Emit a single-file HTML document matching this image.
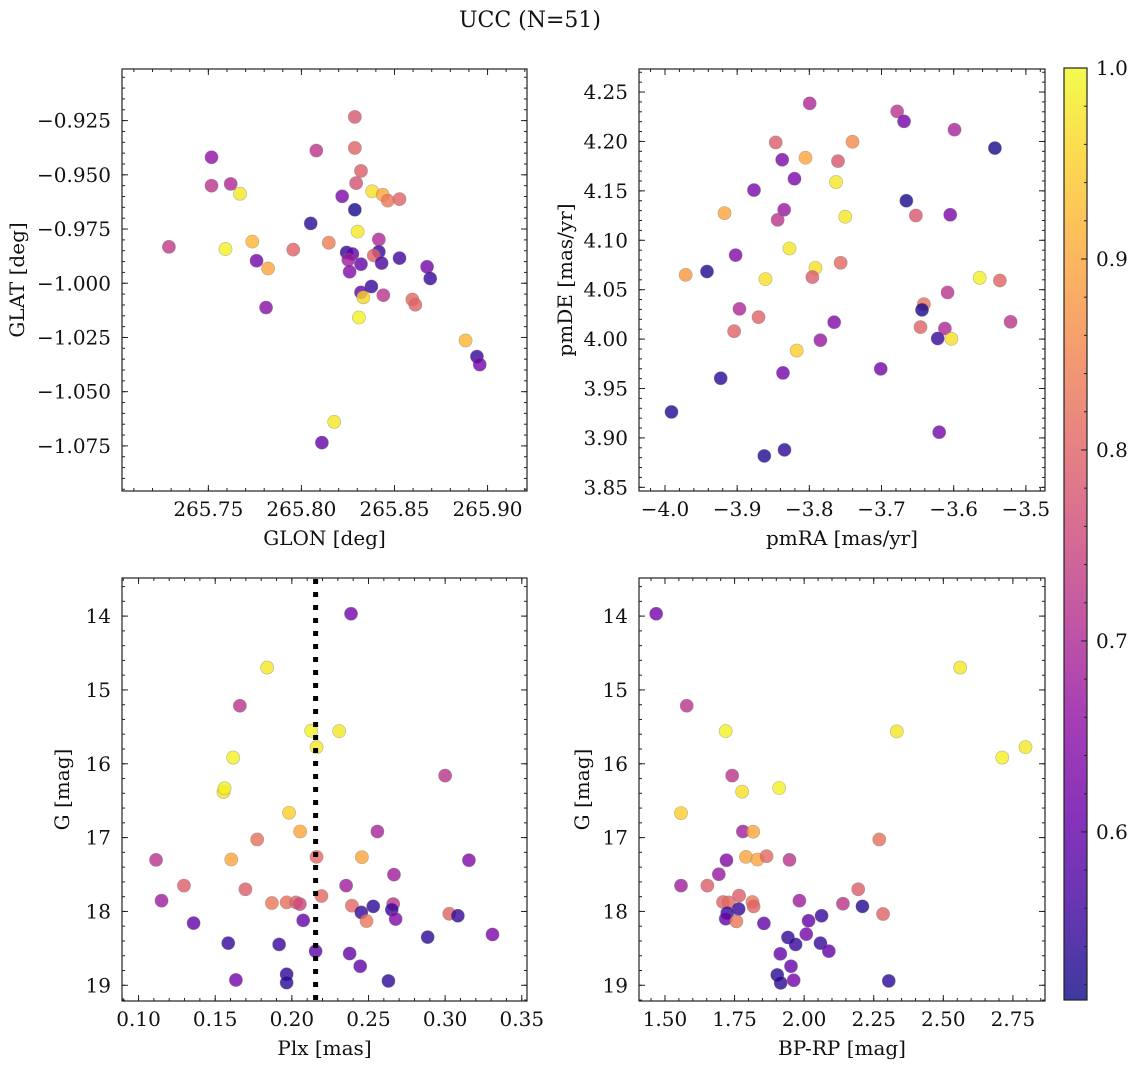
<!DOCTYPE html>
<html><head><meta charset="utf-8"><style>
html,body{margin:0;padding:0;background:#fff;}
svg text{font-family:"DejaVu Serif","Liberation Serif",serif;fill:#111;}
</style></head><body>
<svg id="fig" width="1136" height="1068" viewBox="0 0 1136 1068" xmlns="http://www.w3.org/2000/svg">
<defs>
<linearGradient id="plasma" x1="0" y1="1" x2="0" y2="0"></linearGradient>
</defs>
<text x="530" y="27" font-size="22" text-anchor="middle">UCC (N=51)</text>
</svg>
<script>
// ---- Data ----
const tlGlon=[265.8287,265.808,265.8287,265.7517,265.832,265.7517,265.762,265.8294,265.767,265.838,265.8437,265.8464,265.8527,265.8219,265.8287,265.805,265.8302,265.7288,265.7592,265.7736,265.7956,265.8147,265.8416,265.8243,265.8274,265.8416,265.8389,265.8527,265.7759,265.7821,265.8252,265.832,265.8431,265.8259,265.8675,265.8692,265.8376,265.832,265.8333,265.844,265.8596,265.8612,265.781,265.8309,265.8882,265.8943,265.8958,265.8176,265.811];
const tlGlat=[-0.9233,-0.9388,-0.9376,-0.9419,-0.9482,-0.955,-0.9542,-0.9538,-0.9587,-0.9576,-0.9592,-0.9619,-0.9612,-0.9599,-0.9661,-0.9724,-0.9762,-0.9832,-0.9842,-0.9808,-0.9845,-0.9813,-0.9798,-0.9858,-0.9865,-0.9855,-0.9872,-0.9884,-0.9896,-0.9932,-0.9892,-0.9912,-0.9907,-0.9947,-0.9924,-0.9978,-1.0015,-1.0042,-1.0065,-1.0055,-1.0075,-1.0099,-1.0112,-1.0158,-1.0264,-1.0338,-1.0375,-1.0639,-1.0735];
const tlProb=[0.78,0.72,0.8,0.66,0.79,0.72,0.7,0.77,0.98,0.97,0.9,0.83,0.8,0.63,0.52,0.54,0.98,0.73,0.99,0.92,0.8,0.84,0.7,0.54,0.6,0.55,0.8,0.56,0.62,0.9,0.68,0.6,0.57,0.64,0.62,0.55,0.55,0.6,0.96,0.72,0.81,0.8,0.65,0.99,0.92,0.55,0.62,0.98,0.6];

const trPmra=[-3.7995,-3.6783,-3.6688,-3.5989,-3.5429,-3.8466,-3.7402,-3.8376,-3.8053,-3.7603,-3.8206,-3.763,-3.8767,-3.6656,-3.9175,-3.8349,-3.8439,-3.7503,-3.6524,-3.6048,-3.8275,-3.9021,-3.7566,-3.7915,-3.7958,-3.9714,-3.9418,-3.8608,-3.564,-3.536,-3.6085,-3.6413,-3.6439,-3.8968,-3.8704,-3.7656,-3.5212,-3.9042,-3.646,-3.6122,-3.7847,-3.6222,-3.6032,-3.8175,-3.7011,-3.8365,-3.9228,-3.991,-3.6201,-3.8344,-3.8624];
const trPmde=[4.2385,4.2304,4.2203,4.2119,4.1933,4.199,4.1997,4.1815,4.1835,4.1801,4.1623,4.1589,4.1508,4.14,4.1275,4.1309,4.1207,4.1238,4.1251,4.1258,4.0917,4.085,4.0772,4.0721,4.0627,4.065,4.0684,4.0607,4.062,4.0593,4.0472,4.0354,4.0296,4.0306,4.0222,4.0171,4.0175,4.008,4.0121,4.0107,3.9989,4.0006,4.0003,3.9884,3.9699,3.9658,3.9604,3.9263,3.9058,3.8879,3.8818];
const trProb=[0.7,0.72,0.62,0.69,0.52,0.79,0.86,0.63,0.9,0.78,0.63,0.98,0.63,0.52,0.9,0.67,0.72,0.98,0.78,0.63,0.98,0.64,0.81,0.97,0.79,0.88,0.53,0.97,0.99,0.8,0.72,0.82,0.52,0.7,0.8,0.64,0.72,0.8,0.8,0.7,0.67,0.55,0.97,0.95,0.62,0.62,0.54,0.53,0.62,0.54,0.53];

const blPlx=[0.2386,0.1839,0.1661,0.2126,0.2309,0.2161,0.1617,0.1554,0.1561,0.30,0.1982,0.2054,0.2558,0.1774,0.1114,0.1605,0.2161,0.2457,0.3155,0.2666,0.1296,0.2354,0.1697,0.2193,0.115,0.187,0.1966,0.2027,0.2052,0.2392,0.2531,0.2661,0.2652,0.2453,0.3027,0.3083,0.2487,0.2677,0.2074,0.1359,0.1585,0.1917,0.2886,0.3309,0.2155,0.2377,0.2446,0.1966,0.1966,0.1635,0.263];
const blG=[13.968,14.697,15.214,15.553,15.558,15.775,15.916,16.382,16.332,16.16,16.663,16.917,16.917,17.025,17.302,17.297,17.261,17.265,17.306,17.501,17.65,17.65,17.7,17.791,17.854,17.886,17.877,17.877,17.9,17.922,17.931,17.9,17.976,18.013,18.031,18.058,18.13,18.103,18.121,18.158,18.429,18.447,18.348,18.312,18.538,18.57,18.742,18.851,18.964,18.928,18.941];
const blProb=[0.62,0.98,0.72,0.99,0.98,0.98,0.99,0.97,0.99,0.72,0.95,0.9,0.69,0.82,0.72,0.9,0.81,0.9,0.64,0.68,0.79,0.68,0.79,0.81,0.68,0.83,0.82,0.8,0.75,0.81,0.54,0.72,0.55,0.55,0.8,0.55,0.83,0.64,0.6,0.6,0.55,0.55,0.54,0.63,0.59,0.6,0.6,0.54,0.54,0.62,0.54];
const plxMedian=[0.2155];

const brBprp=[1.4684,2.5606,1.5782,1.7182,2.3329,2.7953,2.7116,1.7415,1.7772,1.9103,1.5576,1.7799,1.817,2.2698,1.7209,1.7909,1.832,1.865,1.9473,1.6935,1.5576,1.6523,2.1943,1.7662,1.7086,1.7291,1.8142,1.8183,1.983,2.1394,2.2094,1.7648,1.7237,2.2835,2.0626,1.7182,1.7566,2.0159,1.8554,2.0077,1.9418,1.9693,2.0585,2.0886,1.9144,1.9528,1.9034,1.9157,1.9624,2.3041];
const brG=[13.968,14.697,15.214,15.558,15.562,15.775,15.916,16.16,16.378,16.328,16.668,16.917,16.921,17.025,17.306,17.261,17.297,17.252,17.302,17.496,17.65,17.65,17.70,17.786,17.872,17.877,17.872,17.931,17.854,17.895,17.931,17.967,18.022,18.035,18.058,18.099,18.135,18.126,18.162,18.307,18.352,18.447,18.429,18.538,18.574,18.742,18.86,18.968,18.932,18.941];
const brProb=[0.62,0.98,0.72,0.99,0.98,0.98,0.99,0.72,0.97,0.99,0.95,0.68,0.9,0.82,0.64,0.9,0.9,0.81,0.72,0.67,0.68,0.79,0.79,0.79,0.8,0.81,0.83,0.8,0.68,0.72,0.53,0.55,0.55,0.8,0.55,0.6,0.83,0.6,0.6,0.62,0.55,0.55,0.55,0.6,0.6,0.6,0.54,0.54,0.62,0.54];

const tlXTicks=[265.75,265.80,265.85,265.90];
const tlYTicks=[-0.925,-0.950,-0.975,-1.000,-1.025,-1.050,-1.075];
const trXTicks=[-4.0,-3.9,-3.8,-3.7,-3.6,-3.5];
const trYTicks=[3.85,3.90,3.95,4.00,4.05,4.10,4.15,4.20,4.25];
const blXTicks=[0.10,0.15,0.20,0.25,0.30,0.35];
const gTicks=[14,15,16,17,18,19];
const brXTicks=[1.50,1.75,2.00,2.25,2.50,2.75];
const cbTicks=[0.6,0.7,0.8,0.9,1.0];
const cbRange=[0.512,1.0];

// ---- Helpers ----
const NS='http://www.w3.org/2000/svg';
const svg=document.getElementById('fig');
function mk(tag,attrs,parent){const e=document.createElementNS(NS,tag);for(const k in attrs)e.setAttribute(k,attrs[k]);(parent||svg).appendChild(e);return e;}
const stops=[[13,8,135],[65,4,157],[106,0,168],[143,13,164],[177,42,144],[204,71,120],[225,100,98],[242,132,75],[252,166,54],[252,206,37],[240,249,33]];
function plasma(t){t=Math.max(0,Math.min(1,t));const p=t*10,i=Math.min(9,Math.floor(p)),f=p-i;const a=stops[i],b=stops[i+1];return 'rgb('+a.map((v,k)=>Math.round(v+(b[k]-v)*f)).join(',')+')';}
function cmap(v){return plasma((v-cbRange[0])/(cbRange[1]-cbRange[0]));}
function fmt(v,d){const s=Math.abs(v).toFixed(d);return (v<0?'\u2212':'')+s;}
const TFS=20, LFS=20;

function panel(o){
  const g=mk('g',{});
  
  
  const sx=v=>o.x0+(v-o.xmin)/(o.xmax-o.xmin)*(o.x1-o.x0);
  const sy=o.invert?(v=>o.y0+(v-o.ymin)/(o.ymax-o.ymin)*(o.y1-o.y0)):(v=>o.y1-(v-o.ymin)/(o.ymax-o.ymin)*(o.y1-o.y0));
  const pts=mk('g',{},g);
  
  
  for(let i=0;i<o.xs.length;i++){
    const c=mk('circle',{cx:sx(o.xs[i]),cy:sy(o.ys[i]),r:6.6,fill:cmap(o.cs[i]),'fill-opacity':0.8,stroke:'#777','stroke-opacity':0.5,'stroke-width':0.6},pts);
    
    
  }
  if(o.vline){
    const l2=mk('line',{x1:sx(o.vline),x2:sx(o.vline),y1:o.y0+1,y2:o.y1,stroke:'#000','stroke-width':5,'stroke-dasharray':'5,8'},g);
    
    
  }
  const fr=mk('rect',{x:o.x0,y:o.y0,width:o.x1-o.x0,height:o.y1-o.y0,fill:'none',stroke:'#222','stroke-width':1.2},g);
  
  
  const tk=mk('g',{stroke:'#222','stroke-width':1},g);
  
  
  const ms=(o.xTicks[1]-o.xTicks[0])/o.xMinorN;
  for(let v=o.xTicks[0]-20*ms;v<=o.xmax+1e-9;v+=ms){ if(v<o.xmin-1e-9)continue; const X=sx(v);
    mk('line',{x1:X,x2:X,y1:o.y1,y2:o.y1-3},tk);mk('line',{x1:X,x2:X,y1:o.y0,y2:o.y0+3},tk);}
  const msy=Math.abs(o.yTicks[1]-o.yTicks[0])/o.yMinorN;
  const ylo=Math.min(o.ymin,o.ymax),yhi=Math.max(o.ymin,o.ymax);
  for(let v=Math.min(...o.yTicks)-20*msy;v<=yhi+1e-9;v+=msy){ if(v<ylo-1e-9)continue; const Y=sy(v);
    mk('line',{x1:o.x0,x2:o.x0+3,y1:Y,y2:Y},tk);mk('line',{x1:o.x1,x2:o.x1-3,y1:Y,y2:Y},tk);}
  o.xTicks.forEach(v=>{const X=sx(v); if(X>o.x1+1)return;
    mk('line',{x1:X,x2:X,y1:o.y1,y2:o.y1-6},tk);mk('line',{x1:X,x2:X,y1:o.y0,y2:o.y0+6},tk);
    const t=mk('text',{x:X,y:o.y1+25,'font-size':TFS,'text-anchor':'middle'},g);t.textContent=fmt(v,o.xDec);
    
    });
  o.yTicks.forEach(v=>{const Y=sy(v);
    mk('line',{x1:o.x0,x2:o.x0+6,y1:Y,y2:Y},tk);mk('line',{x1:o.x1,x2:o.x1-6,y1:Y,y2:Y},tk);
    const t=mk('text',{x:o.x0-11,y:Y+7,'font-size':TFS,'text-anchor':'end'},g);t.textContent=fmt(v,o.yDec);
    
    });
  const xl=mk('text',{x:(o.x0+o.x1)/2,y:o.y1+54,'font-size':LFS,'text-anchor':'middle'},g);xl.textContent=o.xlabel;
  
  
  const cy=(o.y0+o.y1)/2;
  const yl=mk('text',{x:o.ylx,y:cy,'font-size':LFS,'text-anchor':'middle',transform:'rotate(-90 '+o.ylx+' '+cy+')'},g);yl.textContent=o.ylabel;
  
  
}

panel({name:'glon-glat-panel',x0:122,x1:527,y0:69,y1:491,xmin:265.7036,xmax:265.9212,ymin:-1.0958,ymax:-0.9012,
  xs:tlGlon,ys:tlGlat,cs:tlProb,xTicks:tlXTicks,yTicks:tlYTicks,xMinorN:5,yMinorN:5,xDec:2,yDec:3,xlabel:'GLON [deg]',ylabel:'GLAT [deg]',ylx:24});
panel({name:'pm-panel',x0:639,x1:1045,y0:69,y1:491,xmin:-4.036,xmax:-3.4735,ymin:3.8463,ymax:4.2733,
  xs:trPmra,ys:trPmde,cs:trProb,xTicks:trXTicks,yTicks:trYTicks,xMinorN:5,yMinorN:5,xDec:1,yDec:2,xlabel:'pmRA [mas/yr]',ylabel:'pmDE [mas/yr]',ylx:572});
panel({name:'plx-g-panel',x0:122,x1:527,y0:578,y1:1001,xmin:0.0892,xmax:0.3534,ymin:13.484,ymax:19.213,invert:true,vline:plxMedian[0],
  xs:blPlx,ys:blG,cs:blProb,xTicks:blXTicks,yTicks:gTicks,xMinorN:5,yMinorN:5,xDec:2,yDec:0,xlabel:'Plx [mas]',ylabel:'G [mag]',ylx:69});
panel({name:'cmd-panel',x0:639,x1:1045,y0:578,y1:1001,xmin:1.4067,xmax:2.8653,ymin:13.484,ymax:19.213,invert:true,
  xs:brBprp,ys:brG,cs:brProb,xTicks:brXTicks,yTicks:gTicks,xMinorN:5,yMinorN:5,xDec:2,yDec:0,xlabel:'BP-RP [mag]',ylabel:'G [mag]',ylx:589});

// ---- Colorbar ----
const grad=document.getElementById('plasma');
for(let i=0;i<=10;i++){mk('stop',{offset:(i/10),'stop-color':plasma(i/10)},grad);}
const cb=mk('g',{});


const cbx0=1064,cbx1=1087,cby0=68,cby1=1000;
mk('rect',{x:cbx0,y:cby0,width:cbx1-cbx0,height:cby1-cby0,fill:'url(#plasma)','fill-opacity':0.8},cb);
mk('rect',{x:cbx0,y:cby0,width:cbx1-cbx0,height:cby1-cby0,fill:'none',stroke:'#222','stroke-width':1.2},cb);
const cyv=v=>cby1-(v-cbRange[0])/(cbRange[1]-cbRange[0])*(cby1-cby0);
for(let v=0.52;v<=1.0001;v+=0.02){mk('line',{x1:cbx1,x2:cbx1-3,y1:cyv(v),y2:cyv(v),stroke:'#222'},cb);}
cbTicks.forEach(v=>{const Y=cyv(v);mk('line',{x1:cbx1,x2:cbx1-6,y1:Y,y2:Y,stroke:'#222'},cb);
  const t=mk('text',{x:cbx1+9,y:Y+7,'font-size':TFS},cb);t.textContent=v.toFixed(1);
  
  });
</script>
</body></html>
